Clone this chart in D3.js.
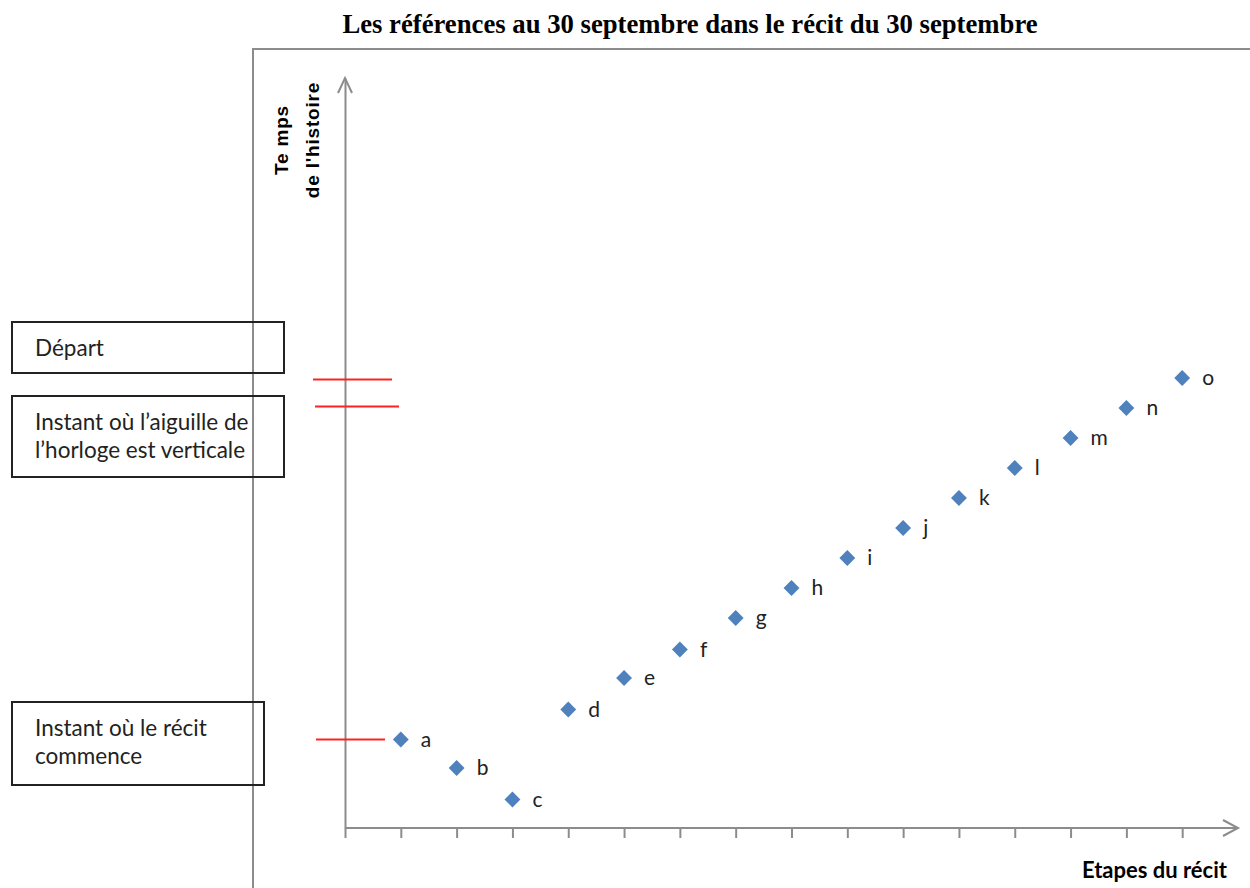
<!DOCTYPE html>
<html>
<head>
<meta charset="utf-8">
<script src="https://cdn.jsdelivr.net/npm/d3@7"></script>
<style>
  body { margin: 0; background: #fff; }
  .title { font-family: 'Liberation Serif', serif; font-weight: bold; font-size: 26.7px; }
  .box-text { font-family: Lato, 'Open Sans', sans-serif; font-size: 22.5px; fill: #222; }
  .pt-label { font-family: Lato, 'Open Sans', sans-serif; font-size: 21px; fill: #222; }
  .axis-label { font-family: 'Liberation Sans', sans-serif; font-weight: bold; font-size: 19px; letter-spacing: 0.8px; }
  .x-label { font-family: Lato, sans-serif; font-weight: bold; font-size: 22px; }
</style>
</head>
<body>
<div id="graph"></div>
<script>
// narrative steps (x) and story time (y)
const steps = ['a', 'b', 'c', 'd', 'e', 'f', 'g', 'h', 'i', 'j', 'k', 'l', 'm', 'n', 'o'];
const stepIndex = [1, 2, 3, 4, 5, 6, 7, 8, 9, 10, 11, 12, 13, 14, 15];
const storyTime = [2.95, 2, 0.95, 3.95, 5, 5.95, 7, 8, 9, 10, 11, 12, 13, 14, 15];

// reference instants on the time axis
const refLabels = [['Départ'], ['Instant où l’aiguille de', 'l’horloge est verticale'], ['Instant où le récit', 'commence']];
const refTimes = [14.95, 14.05, 2.95];

const xTicks = d3.range(0, 16);

const W = 1250, H = 888;
const svg = d3.select('#graph').append('svg')
  .attr('width', W).attr('height', H);

const x = d3.scaleLinear().domain([0, 16]).range([345, 1238]);
const y = d3.scaleLinear().domain([0, 25]).range([828, 78]);

const grey = '#8c8c8c';

// outer frame
svg.append('path')
  .attr('d', `M253,${H}V49H${W}`)
  .attr('fill', 'none').attr('stroke', grey).attr('stroke-width', 2);

// title
svg.append('text').attr('class', 'title')
  .attr('x', 690).attr('y', 33).attr('text-anchor', 'middle')
  .text('Les références au 30 septembre dans le récit du 30 septembre');

// x axis
const axisX = d3.axisBottom(x).tickValues(xTicks).tickSize(10).tickFormat('');
const gx = svg.append('g')
  .attr('transform', `translate(0, ${y(0)})`)
  .call(axisX);
gx.select('.domain').attr('d', `M${x(0)},0H${x(16)}`);
gx.selectAll('path, line').attr('stroke', grey).attr('stroke-width', 2);
svg.append('path')
  .attr('d', `M${x(16) - 15},${y(0) - 8}L${x(16)},${y(0)}L${x(16) - 15},${y(0) + 8}`)
  .attr('fill', 'none').attr('stroke', grey).attr('stroke-width', 2);

// y axis
const axisY = d3.axisLeft(y).tickValues([]).tickSizeOuter(0);
const gy = svg.append('g')
  .attr('transform', `translate(${x(0)}, 0)`)
  .call(axisY);
gy.select('.domain').attr('stroke', grey).attr('stroke-width', 2);
svg.append('path')
  .attr('d', `M${x(0) - 7},${y(25) + 15}L${x(0)},${y(25)}L${x(0) + 7},${y(25) + 15}`)
  .attr('fill', 'none').attr('stroke', grey).attr('stroke-width', 2);

// axis labels
const yl = svg.append('text').attr('class', 'axis-label')
  .attr('transform', 'translate(0, 140) rotate(-90)')
  .attr('text-anchor', 'middle');
yl.append('tspan').attr('x', 0).attr('y', 288).text('Te mps');
yl.append('tspan').attr('x', 0).attr('y', 319).text('de l\'histoire');

svg.append('text').attr('class', 'x-label')
  .attr('x', 1227).attr('y', 878).attr('text-anchor', 'end')
  .text('Etapes du récit');

// reference lines and boxes
const refLine = [[313, 392], [315, 399], [316, 385]];
const boxes = [
  { x: 12, y: 322, w: 272, h: 51 },
  { x: 12, y: 396, w: 272, h: 81 },
  { x: 12, y: 702, w: 252, h: 83 },
];
refTimes.forEach((t, i) => {
  svg.append('line')
    .attr('x1', refLine[i][0]).attr('x2', refLine[i][1])
    .attr('y1', y(t)).attr('y2', y(t))
    .attr('stroke', '#f22').attr('stroke-width', 2);
  const b = boxes[i];
  svg.append('rect')
    .attr('x', b.x).attr('y', b.y).attr('width', b.w).attr('height', b.h)
    .attr('fill', 'none').attr('stroke', '#222').attr('stroke-width', 2);
  const t2 = svg.append('text').attr('class', 'box-text');
  refLabels[i].forEach((line, j) => {
    t2.append('tspan').attr('x', b.x + 23).attr('y', b.y + 34 + j * 28).text(line);
  });
});

// points
const pts = svg.append('g').selectAll('g')
  .data(steps.map((s, i) => ({ s, xi: stepIndex[i], t: storyTime[i] })))
  .enter().append('g')
  .attr('transform', d => `translate(${x(d.xi)}, ${y(d.t)})`);

pts.append('path')
  .attr('d', d3.symbol(d3.symbolDiamond2, 160))
  .attr('fill', '#4f81bd');

pts.append('text').attr('class', 'pt-label')
  .attr('x', 20).attr('y', 7)
  .text(d => d.s);
</script>
</body>
</html>
